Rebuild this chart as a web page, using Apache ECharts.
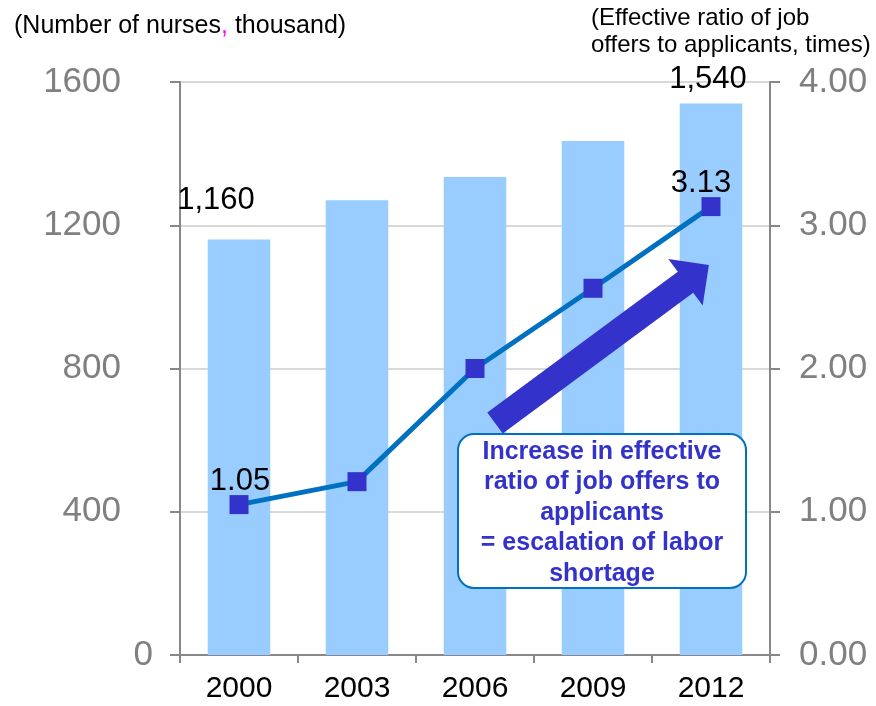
<!DOCTYPE html>
<html>
<head>
<meta charset="utf-8">
<script src="https://cdn.jsdelivr.net/npm/echarts@6/dist/echarts.min.js"></script>
<style>html,body{margin:0;padding:0;background:#fff;}#c{width:876px;height:706px;}</style>
</head>
<body>
<div id="c"></div>
<script>
const categories = ['2000', '2003', '2006', '2009', '2012'];
const nurses = [1160, 1270, 1335, 1435, 1540];
const ratio = [1.05, 1.21, 2.00, 2.56, 3.13];
const leftTicks = [0, 400, 800, 1200, 1600];
const rightTicks = [0, 1, 2, 3, 4];

const F = 'Liberation Sans, Arial, sans-serif';
const chart = echarts.init(document.getElementById('c'));

const barData = nurses.map((v, i) => {
  const d = { value: v };
  if (i === 0) d.label = { show: true, offset: [-23, -19] };
  if (i === nurses.length - 1) d.label = { show: true, offset: [-3, -4] };
  return d;
});
const lineData = ratio.map((v, i) => {
  const d = { value: v };
  if (i === 0) d.label = { show: true, offset: [1, 0] };
  if (i === ratio.length - 1) d.label = { show: true, offset: [-10, 0] };
  return d;
});

chart.setOption({
  animation: false,
  textStyle: { fontFamily: F },
  grid: { left: 180, right: 106, top: 82, bottom: 51, containLabel: false },
  xAxis: {
    type: 'category',
    data: categories,
    axisLine: { lineStyle: { color: '#888', width: 2 } },
    axisTick: { show: true, length: 8, lineStyle: { color: '#888', width: 2 } },
    axisLabel: { color: '#000', fontSize: 30, margin: 19, fontFamily: F }
  },
  yAxis: [{
    type: 'value', min: leftTicks[0], max: leftTicks[leftTicks.length - 1], interval: 400,
    axisLine: { show: true, lineStyle: { color: '#888', width: 2 } },
    axisTick: { show: true, length: 10, lineStyle: { color: '#888', width: 2 } },
    axisLabel: {
      color: '#808080', fontSize: 35, margin: 27, fontFamily: F,
      formatter: v => v === 0 ? '0' : '{a|' + v + '}',
      rich: { a: { color: '#808080', fontSize: 35, fontFamily: F, padding: [0, 32, 0, 0] } }
    },
    splitLine: { show: true, lineStyle: { color: '#d9d9d9', width: 2 } }
  }, {
    type: 'value', min: rightTicks[0], max: rightTicks[rightTicks.length - 1], interval: 1,
    position: 'right',
    axisLine: { show: true, lineStyle: { color: '#888', width: 2 } },
    axisTick: { show: true, length: 10, lineStyle: { color: '#888', width: 2 } },
    axisLabel: { color: '#808080', fontSize: 35, margin: 29, fontFamily: F, formatter: v => v.toFixed(2) },
    splitLine: { show: false }
  }],
  series: [{
    type: 'bar',
    data: barData,
    barWidth: '53%',
    itemStyle: { color: '#99CCFF' },
    label: {
      show: false, position: 'top', color: '#000', fontSize: 31, fontFamily: F,
      formatter: p => p.value.toLocaleString('en-US')
    },
    z: 1
  }, {
    type: 'line',
    yAxisIndex: 1,
    data: lineData,
    symbol: 'rect',
    symbolSize: 19,
    itemStyle: { color: '#3333CC' },
    lineStyle: { color: '#0070C0', width: 5 },
    label: {
      show: false, position: 'top', distance: -2, color: '#000', fontSize: 31, fontFamily: F,
      formatter: p => p.value.toFixed(2)
    },
    z: 3
  }],
  graphic: [{
    type: 'text', left: 14, top: 14,
    style: {
      text: '(Number of nurses{m|,} thousand)',
      fontSize: 25, fontFamily: F, fill: '#000',
      rich: { m: { fill: '#ff00ff', fontSize: 25, fontFamily: F } }
    }
  }, {
    type: 'text', left: 591, top: 5,
    style: {
      text: '(Effective ratio of job\noffers to applicants, times)',
      fontSize: 24, lineHeight: 27, fontFamily: F, fill: '#000'
    }
  }, {
    type: 'polygon', z: 10,
    shape: { points: [[487.3, 412.5], [677.8, 271.7], [668.3, 258.9], [708.9, 265.0], [702.7, 305.5], [693.2, 292.7], [502.7, 433.5]] },
    style: { fill: '#3333CC' }
  }, {
    type: 'rect', z: 10,
    shape: { x: 458, y: 434, width: 288, height: 154, r: 16 },
    style: { fill: '#fff', stroke: '#0070C0', lineWidth: 2 }
  }, {
    type: 'text', z: 11, x: 602, y: 513,
    style: {
      text: 'Increase in effective\nratio of job offers to\napplicants\n= escalation of labor\nshortage',
      fontSize: 25, fontWeight: 'bold', lineHeight: 30.5, fontFamily: F, fill: '#3333CC',
      align: 'center', verticalAlign: 'middle'
    }
  }]
});
</script>
</body>
</html>
